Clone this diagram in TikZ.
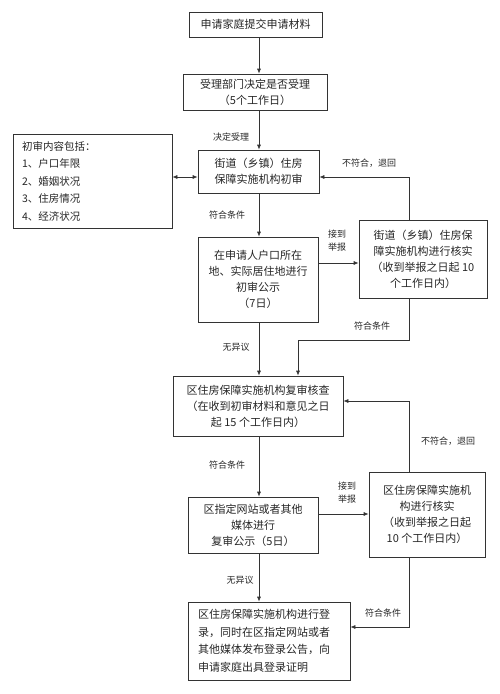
\documentclass[tikz,border=0pt]{standalone}
\usepackage{fontspec}
\usepackage{tikz}
\usetikzlibrary{arrows.meta}
\newfontfamily\cjk{Noto Sans CJK SC}

\begin{document}
\begin{tikzpicture}
[
	x	= 1pt,	% one unit is one pixel of the page
	y	= -1pt,	% y grows downwards
	box/.style	= {shape = rectangle, draw = black!80, line width = 0.7pt, inner sep = 0pt, align = center, text = black!85, font = \cjk\fontsize{11}{16}\selectfont},
	lbl/.style	= {text = black!85, font = \cjk\fontsize{9}{13}\selectfont, align = center},
	flow/.style	= {draw = black!80, line width = 0.7pt, -{Latex[length = 5pt, width = 4pt]}},
	flowBoth/.style	= {draw = black!80, line width = 0.7pt, {Latex[length = 5pt, width = 4pt]}-{Latex[length = 5pt, width = 4pt]}},
]

{
	\useasboundingbox (0,0) rectangle (500,694);

	% nodes declaration
	\node (nStepOne) [box, minimum width = 133pt, minimum height = 25pt] at (255.5,24.5) {申请家庭提交申请材料};
	\node (nStepTwo) [box, minimum width = 144pt, minimum height = 36pt] at (255,92) {受理部门决定是否受理\\（5个工作日）};
	\node (nStepThree) [box, minimum width = 121pt, minimum height = 43pt] at (258.5,171.5) {街道（乡镇）住房\\保障实施机构初审};
	\node (nList) [box, align = left, text width = 141pt, inner xsep = 9pt, minimum height = 94pt, font = \cjk\fontsize{10.5}{17.5}\selectfont] at (92.5,181) {初审内容包括：\\1、户口年限\\2、婚姻状况\\3、住房情况\\4、经济状况};
	\node (nStepFour) [box, minimum width = 120pt, minimum height = 85pt] at (258,279.5) {在申请人户口所在\\地、实际居住地进行\\初审公示\\（7日）};
	\node (nCheckOne) [box, minimum width = 128pt, minimum height = 78pt] at (423,259) {街道（乡镇）住房保\\障实施机构进行核实\\（收到举报之日起 10\\个工作日内）};
	\node (nStepFive) [box, minimum width = 170pt, minimum height = 60pt] at (258,406) {区住房保障实施机构复审核查\\（在收到初审材料和意见之日\\起 15 个工作日内）};
	\node (nStepSix) [box, minimum width = 130pt, minimum height = 56pt] at (253,525) {区指定网站或者其他\\媒体进行\\复审公示（5日）};
	\node (nCheckTwo) [box, minimum width = 116pt, minimum height = 85pt] at (427,514.5) {区住房保障实施机\\构进行核实\\（收到举报之日起\\10 个工作日内）};
	\node (nStepSeven) [box, align = left, text width = 142pt, inner xsep = 10pt, minimum height = 78pt, font = \cjk\fontsize{11}{17.5}\selectfont] at (269,641) {区住房保障实施机构进行登\\录，同时在区指定网站或者\\其他媒体发布登录公告，向\\申请家庭出具登录证明};

	\node (lAccept) [lbl] at (231,137) {决定受理};
	\node (lBackOne) [lbl] at (369,163) {不符合，退回};
	\node (lPassOne) [lbl] at (227,215) {符合条件};
	\node (lReportOne) [lbl] at (337,241) {接到\\举报};
	\node (lPassTwo) [lbl] at (372,326) {符合条件};
	\node (lNoneOne) [lbl] at (236,347) {无异议};
	\node (lBackTwo) [lbl] at (448,441) {不符合，退回};
	\node (lPassThree) [lbl] at (227,465) {符合条件};
	\node (lReportTwo) [lbl] at (347,493) {接到\\举报};
	\node (lNoneTwo) [lbl] at (240,580) {无异议};
	\node (lPassFour) [lbl] at (383,613) {符合条件};

	% helper points
	\coordinate (cAxis) at (259,0);
	\coordinate (cRight) at (409,0);
	\coordinate (cRowA) at (0,177);
	\coordinate (cRowB) at (0,263);
	\coordinate (cJoin) at (298,340);
	\coordinate (cRowC) at (0,401);
	\coordinate (cRowD) at (0,514);
	\coordinate (cRowE) at (0,627);

	% edges declartion
	\draw [flow] (nStepOne.south -| cAxis) -- (nStepTwo.north -| cAxis);
	\draw [flow] (nStepTwo.south -| cAxis) -- (nStepThree.north -| cAxis);
	\draw [flowBoth] (nList.east |- cRowA) -- (nStepThree.west |- cRowA);
	\draw [flow] (nCheckOne.north -| cRight) |- (nStepThree.east |- cRowA);
	\draw [flow] (nStepThree.south -| cAxis) -- (nStepFour.north -| cAxis);
	\draw [flow] (nStepFour.east |- cRowB) -- (nCheckOne.west |- cRowB);
	\draw [flow] (nStepFour.south -| cAxis) -- (nStepFive.north -| cAxis);
	\draw [flow] (nCheckOne.south -| cRight) |- (cJoin) -- (nStepFive.north -| cJoin);
	\draw [flow] (nCheckTwo.north -| cRight) |- (nStepFive.east |- cRowC);
	\draw [flow] (nStepFive.south -| cAxis) -- (nStepSix.north -| cAxis);
	\draw [flow] (nStepSix.east |- cRowD) -- (nCheckTwo.west |- cRowD);
	\draw [flow] (nStepSix.south -| cAxis) -- (nStepSeven.north -| cAxis);
	\draw [flow] (nCheckTwo.south -| cRight) |- (nStepSeven.east |- cRowE);
}

\end{tikzpicture}
\end{document}
